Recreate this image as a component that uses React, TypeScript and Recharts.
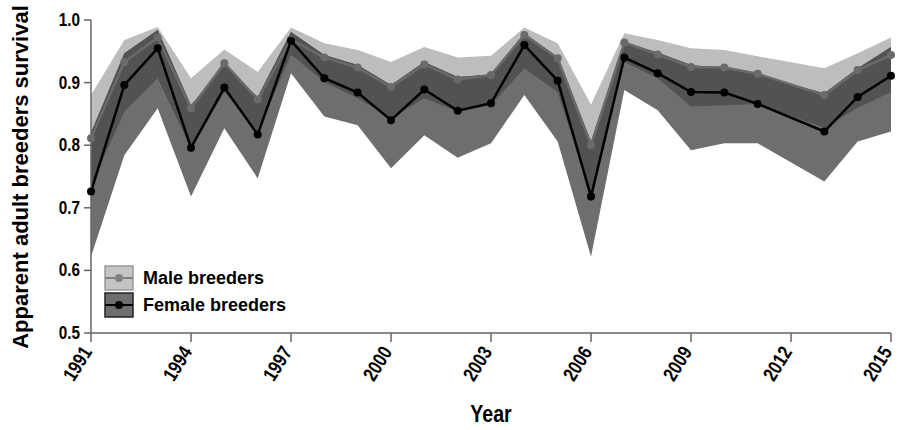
import React from 'react';
import { ComposedChart, Area, Line, XAxis, YAxis } from 'recharts';

// 2012 has no estimate in the source figure, the lines just bridge it
const years = [1991, 1992, 1993, 1994, 1995, 1996, 1997, 1998, 1999, 2000, 2001, 2002, 2003, 2004, 2005, 2006, 2007, 2008, 2009, 2010, 2011, 2013, 2014, 2015];
const maleMean = [0.811, 0.933, 0.972, 0.859, 0.931, 0.873, 0.969, 0.94, 0.924, 0.893, 0.929, 0.905, 0.912, 0.976, 0.939, 0.8, 0.964, 0.945, 0.925, 0.924, 0.914, 0.88, 0.92, 0.944];
const maleLower = [0.735, 0.854, 0.907, 0.795, 0.885, 0.82, 0.945, 0.901, 0.875, 0.843, 0.875, 0.854, 0.864, 0.923, 0.885, 0.72, 0.933, 0.907, 0.862, 0.864, 0.866, 0.828, 0.86, 0.885];
const maleUpper = [0.88, 0.968, 0.989, 0.907, 0.953, 0.917, 0.988, 0.963, 0.952, 0.933, 0.957, 0.94, 0.943, 0.988, 0.963, 0.865, 0.979, 0.968, 0.955, 0.952, 0.942, 0.923, 0.947, 0.972];
const femaleMean = [0.726, 0.896, 0.955, 0.796, 0.892, 0.817, 0.967, 0.907, 0.884, 0.84, 0.889, 0.855, 0.867, 0.96, 0.903, 0.718, 0.94, 0.915, 0.885, 0.884, 0.866, 0.822, 0.877, 0.911];
const femaleLower = [0.622, 0.784, 0.859, 0.718, 0.827, 0.747, 0.915, 0.846, 0.832, 0.763, 0.816, 0.78, 0.803, 0.88, 0.806, 0.622, 0.888, 0.856, 0.792, 0.803, 0.803, 0.742, 0.806, 0.822];
const femaleUpper = [0.82, 0.947, 0.984, 0.864, 0.928, 0.877, 0.981, 0.944, 0.928, 0.896, 0.933, 0.909, 0.913, 0.979, 0.941, 0.806, 0.965, 0.948, 0.928, 0.923, 0.912, 0.883, 0.923, 0.957];

const xTicks = [1991, 1994, 1997, 2000, 2003, 2006, 2009, 2012, 2015];
const yTicks = [0.5, 0.6, 0.7, 0.8, 0.9, 1.0];

// overlap of the two intervals gets its own darker shade, like the original
const data = years.map((year, i) => ({
  year,
  male: maleMean[i],
  maleBand: [maleLower[i], maleUpper[i]],
  female: femaleMean[i],
  femaleBand: [femaleLower[i], femaleUpper[i]],
  overlap: [Math.max(maleLower[i], femaleLower[i]), Math.min(maleUpper[i], femaleUpper[i])],
}));

const sans = "'Liberation Sans', Arial, sans-serif";
const axisColor = '#666';

const YearTick = (props: any) => {
  const { x, y, payload } = props;
  return (
    <g transform={`translate(${x - 4},${y + 4})`}>
      <text
        transform="rotate(-58) scale(0.82,1)"
        textAnchor="end"
        dy={7}
        fontFamily={sans}
        fontWeight="bold"
        fontSize={20}
        fill="#000"
      >
        {payload.value}
      </text>
    </g>
  );
};

const ValueTick = (props: any) => {
  const { x, y, payload } = props;
  return (
    <g transform={`translate(${x - 2},${y})`}>
      <text transform="scale(0.85,1)" textAnchor="end" dy={6} fontFamily={sans} fontWeight="bold" fontSize={18} fill="#000">
        {Number(payload.value).toFixed(1)}
      </text>
    </g>
  );
};

const Swatch = ({ fill, border, line }: { fill: string; border: string; line: string }) => (
  <svg width={30} height={26} style={{ display: 'block' }}>
    <rect x={1} y={1} width={28} height={24} fill={fill} stroke={border} strokeWidth={1.5} />
    <line x1={1} y1={13} x2={29} y2={13} stroke={line} strokeWidth={2} />
    <circle cx={15} cy={13} r={4} fill={line} />
  </svg>
);

export default function App() {
  return (
    <div style={{ position: 'absolute', left: 0, top: 0, width: 898, height: 430, background: '#fff' }}>
      <ComposedChart width={898} height={430} data={data} margin={{ top: 20, right: 7, bottom: 0, left: 0 }}>
        <XAxis
          dataKey="year"
          type="number"
          domain={[1991, 2015]}
          ticks={xTicks}
          interval={0}
          tick={<YearTick />}
          tickSize={9}
          height={97}
          stroke={axisColor}
          strokeWidth={1.5}
        />
        <XAxis xAxisId="top" orientation="top" dataKey="year" type="number" domain={[1991, 2015]} tick={false} tickLine={false} height={0} stroke={axisColor} strokeWidth={1.5} />
        <YAxis
          domain={[0.5, 1.0]}
          ticks={yTicks}
          interval={0}
          tick={<ValueTick />}
          tickSize={7}
          width={91}
          stroke={axisColor}
          strokeWidth={1.5}
          allowDataOverflow
        />
        <YAxis yAxisId="right" orientation="right" domain={[0.5, 1.0]} tick={false} tickLine={false} width={0} stroke={axisColor} strokeWidth={1.5} />
        <Area dataKey="maleBand" type="linear" fill="#bdbdbd" fillOpacity={1} stroke="none" isAnimationActive={false} />
        <Area dataKey="femaleBand" type="linear" fill="#6e6e6e" fillOpacity={1} stroke="none" isAnimationActive={false} />
        <Area dataKey="overlap" type="linear" fill="#525252" fillOpacity={1} stroke="none" isAnimationActive={false} />
        <Line dataKey="male" type="linear" stroke="#6a6a6a" strokeWidth={2.5} dot={{ r: 4, fill: '#6a6a6a', stroke: 'none' }} isAnimationActive={false} />
        <Line dataKey="female" type="linear" stroke="#000" strokeWidth={2.5} dot={{ r: 4, fill: '#000', stroke: 'none' }} isAnimationActive={false} />
      </ComposedChart>

      <div
        style={{
          position: 'absolute',
          left: 21,
          top: 177,
          transform: 'translate(-50%, -50%) rotate(-90deg)',
          whiteSpace: 'nowrap',
          fontFamily: sans,
          fontWeight: 'bold',
          fontSize: 22,
        }}
      >
        Apparent adult breeders survival
      </div>
      <div
        style={{
          position: 'absolute',
          left: 491,
          top: 414,
          transform: 'translate(-50%, -50%) scale(0.85,1)',
          fontFamily: sans,
          fontWeight: 'bold',
          fontSize: 23,
        }}
      >
        Year
      </div>

      <div style={{ position: 'absolute', left: 104, top: 265, fontFamily: sans, fontWeight: 'bold', fontSize: 18 }}>
        <div style={{ display: 'flex', alignItems: 'center', gap: 9, height: 26 }}>
          <Swatch fill="#c4c4c4" border="#999" line="#808080" />
          <span>Male breeders</span>
        </div>
        <div style={{ display: 'flex', alignItems: 'center', gap: 9, height: 26, marginTop: 1 }}>
          <Swatch fill="#6e6e6e" border="#222" line="#000" />
          <span>Female breeders</span>
        </div>
      </div>
    </div>
  );
}
